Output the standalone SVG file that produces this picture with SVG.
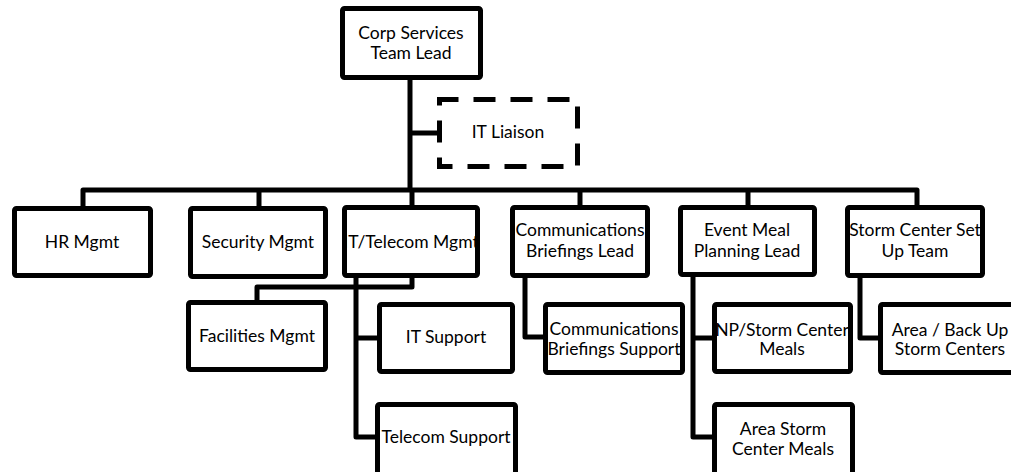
<svg xmlns="http://www.w3.org/2000/svg" width="1011" height="472" viewBox="0 0 1011 472">
<style>
.box{fill:#fff;stroke:#000;stroke-width:5;stroke-linejoin:round}
.dash{fill:#fff;stroke:#000;stroke-width:5;stroke-dasharray:22 15;stroke-dashoffset:3}
.conn{fill:none;stroke:#000;stroke-width:5;stroke-linejoin:round}
text{font-family:Lato,"Open Sans","Liberation Sans",sans-serif;font-size:17.5px;fill:#000;text-anchor:middle}
</style>
<rect width="1011" height="472" fill="#fff"/>
<g id="connectors">
<path class="conn" d="M410 78V190"/>
<path class="conn" d="M410 133H440"/>
<path class="conn" d="M83 209V190H917V209"/>
<path class="conn" d="M259 190V209"/>
<path class="conn" d="M412 190V209"/>
<path class="conn" d="M580 190V209"/>
<path class="conn" d="M748 190V209"/>
<path class="conn" d="M412 275V287H257V304"/>
<path class="conn" d="M356 275V437H378"/>
<path class="conn" d="M356 338H380"/>
<path class="conn" d="M525 275V337H546"/>
<path class="conn" d="M693 275V437H715"/>
<path class="conn" d="M693 338H715"/>
<path class="conn" d="M860 275V338H881"/>
</g>
<g id="corp"><rect class="box" x="342.5" y="8.5" width="138" height="69" rx="2"/><text x="411" y="39">Corp Services</text><text x="411" y="59">Team Lead</text></g>
<g id="itliaison"><rect class="dash" x="439.5" y="99.5" width="138" height="67"/><text x="508" y="138">IT Liaison</text></g>
<g id="hr"><rect class="box" x="14.5" y="208.5" width="136" height="67" rx="2"/><text x="82" y="248">HR Mgmt</text></g>
<g id="security"><rect class="box" x="190.5" y="208.5" width="135" height="68" rx="2"/><text x="258" y="248">Security Mgmt</text></g>
<g id="ittelecom"><rect class="box" x="344.5" y="207.5" width="133" height="68" rx="2"/><text x="411" y="248">IT/Telecom Mgmt</text></g>
<g id="commlead"><rect class="box" x="512.5" y="207.5" width="135" height="68" rx="2"/><text x="580" y="236">Communications</text><text x="580" y="257">Briefings Lead</text></g>
<g id="eventmeal"><rect class="box" x="680.5" y="207.5" width="134" height="67" rx="2"/><text x="747" y="236">Event Meal</text><text x="747" y="257">Planning Lead</text></g>
<g id="stormcenter"><rect class="box" x="847.5" y="207.5" width="135" height="68" rx="2"/><text x="915" y="236">Storm Center Set</text><text x="915" y="257">Up Team</text></g>
<g id="facilities"><rect class="box" x="188.5" y="302.5" width="137" height="67" rx="2"/><text x="257" y="342">Facilities Mgmt</text></g>
<g id="itsupport"><rect class="box" x="379.5" y="304.5" width="133" height="67" rx="2"/><text x="446" y="343">IT Support</text></g>
<g id="commsupport"><rect class="box" x="545.5" y="304.5" width="137" height="68" rx="2"/><text x="614" y="335">Communications</text><text x="614" y="355">Briefings Support</text></g>
<g id="npstorm"><rect class="box" x="714.5" y="304.5" width="136" height="67" rx="2"/><text x="782" y="336">NP/Storm Center</text><text x="782" y="355">Meals</text></g>
<g id="areabackup"><rect class="box" x="880.5" y="304.5" width="140" height="68" rx="2"/><text x="950" y="336">Area / Back Up</text><text x="950" y="355">Storm Centers</text></g>
<g id="telecomsupport"><rect class="box" x="377.5" y="404.5" width="138" height="72" rx="2"/><text x="446" y="443">Telecom Support</text></g>
<g id="areastorm"><rect class="box" x="714.5" y="404.5" width="138" height="72" rx="2"/><text x="783" y="435">Area Storm</text><text x="783" y="455">Center Meals</text></g>
</svg>
